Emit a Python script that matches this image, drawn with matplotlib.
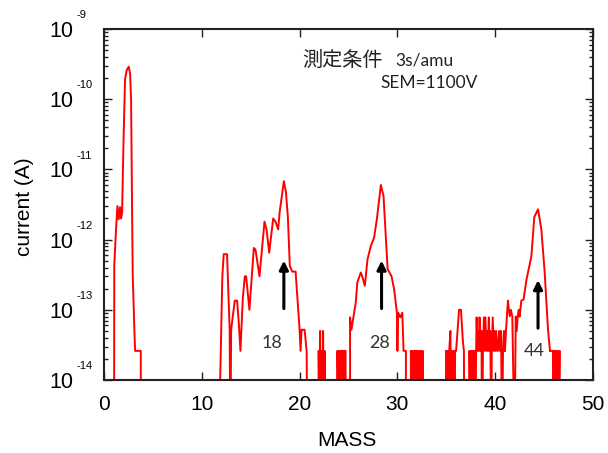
import matplotlib
matplotlib.use('Agg')
import matplotlib.pyplot as plt

F = 1e-15  # below the axis floor

# hydrogen peak
m_h2 = [1.03, 1.05, 1.23, 1.37, 1.50, 1.64, 1.74, 1.85, 1.98, 2.15, 2.32, 2.53, 2.67, 2.77, 2.87, 2.94, 3.11, 3.18, 3.76, 3.76]
c_h2 = [F, 4.2e-13, 1.4e-12, 3.0e-12, 1.95e-12, 2.9e-12, 2.0e-12, 2.4e-12, 2.0e-11, 1.9e-10, 2.6e-10, 2.9e-10, 2.3e-10, 9.8e-11, 2.7e-12, 3.0e-13, 5.0e-14, 2.6e-14, 2.6e-14, F]

# water group
m_g18 = [11.73, 12.10, 12.24, 12.58, 12.85, 12.92, 13.00, 13.37, 13.61, 13.78, 13.95, 14.20, 14.40, 14.53, 14.87, 15.32, 15.49,
         15.90, 16.41, 16.62, 16.89, 17.30, 17.54, 17.81, 17.95, 18.39, 18.60, 18.80, 19.00, 19.25, 19.59, 20.00, 20.10,
         20.20, 20.51, 20.72, 20.79]
c_g18 = [F, 3.0e-13, 6.2e-13, 6.2e-13, 5.2e-14, F, 5.2e-14, 1.35e-13, 1.35e-13, 6.6e-14, 2.6e-14, 1.5e-13, 3.0e-13, 3.0e-13,
         1.0e-13, 7.6e-13, 7.2e-13, 3.0e-13, 1.8e-12, 1.4e-12, 6.5e-13, 2.0e-12, 1.8e-12, 1.4e-12, 2.4e-12, 6.8e-12,
         4.8e-12, 2.1e-12, 4.2e-13, 3.5e-13, 3.5e-13, 5.2e-14, 2.6e-14, 5.2e-14, 5.2e-14, 2.6e-14, F]

m_n22 = [21.95, 21.95, 22.05, 22.10, 22.15, 22.25, 22.35, 22.40, 22.50, 22.55, 22.65]
c_n22 = [F, 2.6e-14, F, 5.0e-14, F, 2.6e-14, F, 5.0e-14, F, 2.6e-14, F]

m_n24 = [23.87, 23.87, 23.95, 24.00, 24.08, 24.15, 24.20, 24.30, 24.35, 24.45, 24.50, 24.60, 24.70, 24.70]
c_n24 = [F, 2.6e-14, F, 2.6e-14, F, 2.6e-14, F, 2.6e-14, F, 2.6e-14, F, 2.6e-14, 2.6e-14, F]

# nitrogen / CO group
m_g28 = [25.16, 25.16, 25.30, 25.50, 25.74, 25.90, 26.26, 26.40, 26.67, 26.94, 27.28, 27.62, 27.90, 28.31, 28.58, 29.00,
         29.40, 29.67, 29.95, 30.00, 30.08, 30.30, 30.50, 30.63, 30.87, 30.87]
c_g28 = [F, 7.8e-14, 5.2e-14, 7.8e-14, 1.26e-13, 2.45e-13, 3.4e-13, 3.0e-13, 2.2e-13, 5.2e-13, 8.1e-13, 1.07e-12, 1.95e-12,
         6.0e-12, 4.2e-12, 3.8e-13, 3.0e-13, 1.95e-13, 9.1e-14, 2.6e-14, 9.1e-14, 7.8e-14, 9.1e-14, 2.6e-14, 2.6e-14, F]

m_n32 = [31.38, 31.38, 31.50, 31.55, 31.65, 31.75, 31.80, 31.90, 32.00, 32.05, 32.15, 32.25, 32.30, 32.40, 32.50, 32.58, 32.58]
c_n32 = [F, 2.6e-14, F, 2.6e-14, F, 2.6e-14, F, 2.6e-14, F, 2.6e-14, F, 2.6e-14, F, 2.6e-14, F, 2.6e-14, F]

# noise before the CO2 peak
m_n35 = [34.97, 34.97, 35.05, 35.12, 35.20, 35.30, 35.42, 35.50, 35.60, 35.65, 35.75, 35.85, 35.90, 36.00, 36.15, 36.30,
         36.50, 36.70, 36.80, 36.85]
c_n35 = [F, 2.6e-14, F, 2.6e-14, F, 2.6e-14, 5.0e-14, F, 2.6e-14, F, 2.6e-14, F, 2.6e-14, 2.6e-14, 5.0e-14, 1.0e-13,
         1.0e-13, 3.5e-14, 2.6e-14, F]

m_n38 = [37.37, 37.37, 37.45, 37.55, 37.60, 37.70, 37.80, 37.85, 37.95, 38.05, 38.10, 38.20, 38.25, 38.35, 38.40, 38.50,
         38.60, 38.65, 38.75, 38.85, 38.90, 39.00, 39.10, 39.15, 39.25, 39.35, 39.40, 39.50, 39.60, 39.65, 39.75, 39.85,
         39.90, 40.00, 40.10, 40.20, 40.27, 40.40, 40.50, 40.60, 40.70, 40.80, 40.90, 41.00]
c_n38 = [F, 2.6e-14, F, 2.6e-14, F, 2.6e-14, F, 2.6e-14, F, 2.6e-14, 7.8e-14, 2.6e-14, 5.0e-14, 2.6e-14, 7.8e-14, 2.6e-14,
         5.0e-14, F, 2.6e-14, 7.8e-14, 2.6e-14, 7.8e-14, 2.6e-14, 5.0e-14, 2.6e-14, 7.8e-14, 2.6e-14, 5.0e-14, F, 2.6e-14,
         7.8e-14, 2.6e-14, 5.0e-14, 2.6e-14, 5.0e-14, 2.6e-14, 2.6e-14, 5.0e-14, 2.6e-14, 5.0e-14, F, 2.6e-14, 5.0e-14, 2.6e-14]

# CO2 peak
m_g44 = [41.00, 41.10, 41.20, 41.30, 41.40, 41.50, 41.60, 41.75, 41.98, 42.10, 42.20, 42.30, 42.40, 42.50, 42.67, 42.90,
         43.20, 43.70, 44.00, 44.38, 44.72, 45.06, 45.40, 45.60]
c_g44 = [2.6e-14, 5.0e-14, 8.0e-14, 1.35e-13, 1.0e-13, 8.1e-14, 1.0e-13, 8.0e-14, F, 8.0e-14, 5.0e-14, 8.0e-14, 1.0e-13,
         8.0e-14, 1.35e-13, 1.4e-13, 2.7e-13, 5.8e-13, 2.1e-12, 2.7e-12, 1.4e-12, 3.4e-13, 5.2e-14, 2.6e-14]

m_n46 = [45.60, 45.90, 45.95, 46.05, 46.10, 46.20, 46.30, 46.35, 46.45, 46.55, 46.60, 46.60]
c_n46 = [2.6e-14, 2.6e-14, F, 2.6e-14, F, 2.6e-14, F, 2.6e-14, F, 2.6e-14, 2.6e-14, F]

segments = [(m_h2, c_h2), (m_g18, c_g18), (m_n22, c_n22), (m_n24, c_n24), (m_g28, c_g28),
            (m_n32, c_n32), (m_n35, c_n35), (m_n38, c_n38), (m_g44, c_g44), (m_n46, c_n46)]

# arrows: (mass, tail, head) and peak labels
arrow_mass = [18.39, 28.38, 44.38]
arrow_tail = [9.5e-14, 9.5e-14, 5.0e-14]
arrow_head = [5.5e-13, 5.5e-13, 2.9e-13]
peak_labels = ['18', '28', '44']
label_mass = [17.13, 28.14, 44.03]
label_cur = [3.4e-14, 3.4e-14, 2.6e-14]

y_ticks = [1e-14, 1e-13, 1e-12, 1e-11, 1e-10, 1e-9]
y_exps = ['-14', '-13', '-12', '-11', '-10', '-9']
x_ticks = [0, 10, 20, 30, 40, 50]

plt.rcParams['font.family'] = ['Liberation Sans', 'DejaVu Sans']

fig = plt.figure(figsize=(6.08, 4.53), dpi=100)
ax = fig.add_axes([104 / 608, 1 - 380 / 453, (593 - 104) / 608, (380 - 29) / 453])

for m, c in segments:
    ax.plot(m, c, color='#ff0000', lw=1.4)

ax.set_yscale('log')
ax.set_xlim(0, 50)
ax.set_ylim(1e-14, 1e-9)
ax.set_xticks(x_ticks)
ax.set_xticklabels([str(t) for t in x_ticks])
ax.set_yticks(y_ticks)
ax.set_yticklabels(['10'] * len(y_ticks))
ax.yaxis.set_minor_locator(matplotlib.ticker.LogLocator(base=10, subs=range(2, 10), numticks=20))
ax.yaxis.set_minor_formatter(matplotlib.ticker.NullFormatter())

ax.tick_params(which='both', direction='in', top=True, right=True, width=1.0, color='#222222')
ax.tick_params(which='major', length=6)
ax.tick_params(which='minor', length=3)
ax.tick_params(axis='x', labelsize=15, pad=11)
ax.tick_params(axis='y', labelsize=15.5, pad=22)
for s in ax.spines.values():
    s.set_linewidth(1.5)
    s.set_color('#222222')

for t, e in zip(y_ticks, y_exps):
    ax.annotate(e, xy=(0, t), xycoords=('axes fraction', 'data'), xytext=(-19.5, 10),
                textcoords='offset points', ha='left', va='center', fontsize=8)

for xm, y0, y1 in zip(arrow_mass, arrow_tail, arrow_head):
    ax.annotate('', xy=(xm, y1), xytext=(xm, y0),
                arrowprops=dict(arrowstyle='-|>', color='black', lw=2.2, mutation_scale=13))

for txt, xm, yc in zip(peak_labels, label_mass, label_cur):
    ax.text(xm, yc, txt, ha='center', va='center', fontsize=13, color='#333333', family=['Lato', 'DejaVu Sans'])

fig.text(302 / 608, 1 - 60 / 453, '測定条件', fontsize=14.5, color='#222222',
         family=['Noto Sans CJK JP', 'DejaVu Sans'], ha='left', va='center')
fig.text(395 / 608, 1 - 60 / 453, '3s/amu', fontsize=12.5, color='#222222',
         family=['Lato', 'DejaVu Sans'], ha='left', va='center')
fig.text(380 / 608, 1 - 83 / 453, 'SEM=1100V', fontsize=12.5, color='#222222',
         family=['Lato', 'DejaVu Sans'], ha='left', va='center')

fig.text(24 / 608, 1 - 207 / 453, 'current (A)', rotation=90, ha='center', va='center', fontsize=15)
fig.text(347 / 608, 1 - 441 / 453, 'MASS', ha='center', va='center', fontsize=15)

fig.savefig('out.png', dpi=100)
